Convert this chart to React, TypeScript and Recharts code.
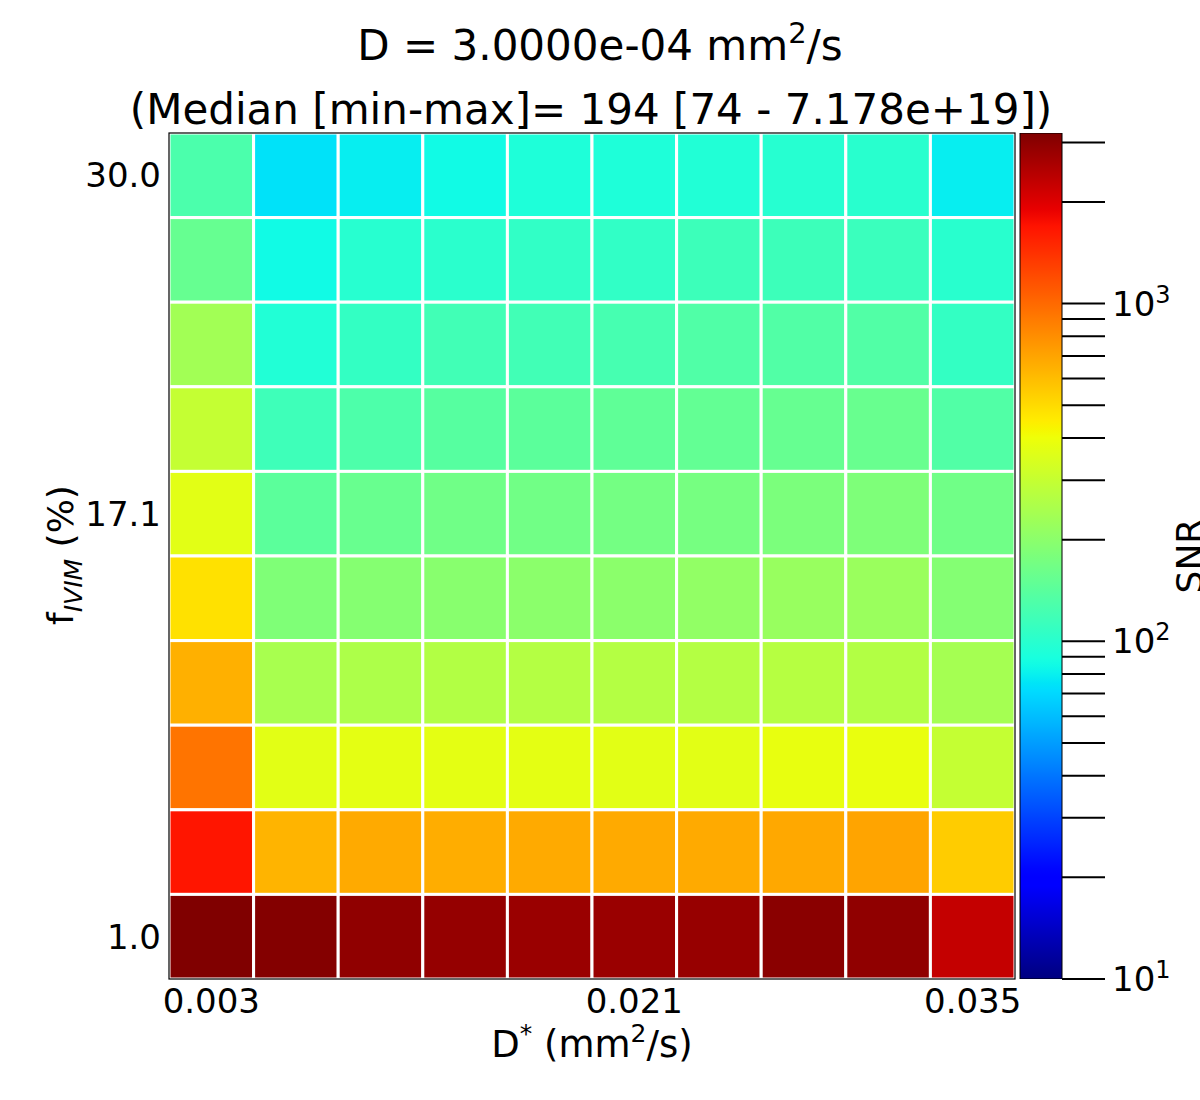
import React from 'react';
import {
  ScatterChart,
  Scatter,
  XAxis,
  YAxis,
  BarChart,
  Bar,
  Customized,
} from 'recharts';

// SNR per cell, rows from top (f = 30.0 %) to bottom (f = 1.0 %), columns D* low -> high
const SNR_ROWS: number[][] = [
  [127, 74, 79, 85, 93, 93, 95, 98, 100, 79],
  [154, 85, 99, 101, 106, 106, 115, 115, 113, 100],
  [234, 95, 108, 119, 119, 123, 132, 133, 133, 108],
  [297, 116, 129, 138, 143, 147, 151, 154, 156, 133],
  [368, 143, 156, 165, 166, 170, 172, 178, 182, 165],
  [482, 184, 192, 196, 200, 200, 210, 218, 222, 190],
  [651, 245, 254, 263, 266, 266, 266, 270, 263, 239],
  [936, 368, 372, 372, 372, 368, 368, 382, 386, 297],
  [1676, 636, 674, 660, 674, 674, 674, 681, 700, 548],
  [7.178e19, 3130, 2950, 2880, 2800, 2800, 2850, 3040, 2950, 2270],
];

const X_TICK_INDEX = [0, 5, 9];
const X_TICK_LABELS = ['0.003', '0.021', '0.035'];
const Y_TICK_INDEX = [0, 5, 9];
const Y_TICK_LABELS = ['1.0', '17.1', '30.0'];

const CB_MIN = 10;
const CB_MAX = 3200;
const CB_TICKS = [
  10, 20, 30, 40, 50, 60, 70, 80, 90,
  100, 200, 300, 400, 500, 600, 700, 800, 900,
  1000, 2000, 3000,
];
const CB_MAJOR = [10, 100, 1000];
const CB_DATA = [{ name: 'cb', v: CB_MAX }];

const FONT = '"DejaVu Sans", sans-serif';
const W = 1200;
const H = 1100;
const PLOT = { left: 169, top: 133, right: 1015, bottom: 979 };
const N = 10;
const CELL_W = (PLOT.right - PLOT.left) / N;
const CELL_H = (PLOT.bottom - PLOT.top) / N;
const XAXIS_H = 40;
const YAXIS_W = 80;

// matplotlib "jet"
const JET_R = [[0, 0], [0.35, 0], [0.66, 1], [0.89, 1], [1, 0.5]];
const JET_G = [[0, 0], [0.125, 0], [0.375, 1], [0.64, 1], [0.91, 0], [1, 0]];
const JET_B = [[0, 0.5], [0.11, 1], [0.34, 1], [0.65, 0], [1, 0]];

function lerpTable(tab: number[][], t: number) {
  for (let i = 1; i < tab.length; i++) {
    if (t <= tab[i][0]) {
      const [t0, v0] = tab[i - 1];
      const [t1, v1] = tab[i];
      return v0 + ((t - t0) / (t1 - t0)) * (v1 - v0);
    }
  }
  return tab[tab.length - 1][1];
}

function jet(t: number) {
  const tt = Math.max(0, Math.min(1, t));
  const c = (v: number) => Math.round(v * 255);
  return `rgb(${c(lerpTable(JET_R, tt))},${c(lerpTable(JET_G, tt))},${c(lerpTable(JET_B, tt))})`;
}

const snrColor = (v: number) =>
  jet(Math.log10(v / CB_MIN) / Math.log10(CB_MAX / CB_MIN));

const cells = SNR_ROWS.flatMap((row, r) =>
  row.map((snr, c) => ({ x: c, y: N - 1 - r, snr }))
);

const gradStops = Array.from({ length: 101 }, (_, i) => i / 100);

const Cell = (props: any) => {
  const { cx, cy, payload } = props;
  return (
    <rect
      x={cx - CELL_W / 2}
      y={cy - CELL_H / 2}
      width={CELL_W}
      height={CELL_H}
      fill={snrColor(payload.snr)}
      stroke="#fff"
      strokeWidth={3}
    />
  );
};

const XTick = (props: any) => {
  const { x, payload } = props;
  const i = X_TICK_INDEX.indexOf(payload.value);
  return (
    <text x={x} y={PLOT.bottom + 34} textAnchor="middle" fontSize={34} fontFamily={FONT} fill="#000">
      {X_TICK_LABELS[i]}
    </text>
  );
};

const YTick = (props: any) => {
  const { y, payload } = props;
  const i = Y_TICK_INDEX.indexOf(payload.value);
  return (
    <text x={PLOT.left - 8} y={y + 12} textAnchor="end" fontSize={34} fontFamily={FONT} fill="#000">
      {Y_TICK_LABELS[i]}
    </text>
  );
};

const CbTick = (props: any) => {
  const { x, y, payload } = props;
  const k = CB_MAJOR.indexOf(payload.value);
  if (k < 0) return <g />;
  return (
    <text x={x + 5} y={y + 12} fontSize={34} fontFamily={FONT} fill="#000">
      10
      <tspan dy={-13} fontSize={24}>{k + 1}</tspan>
    </text>
  );
};

const Texts = () => (
  <g fontFamily={FONT} fill="#000">
    <text x={600} y={60} textAnchor="middle" fontSize={42}>
      D = 3.0000e-04 mm
      <tspan dy={-17} fontSize={29}>2</tspan>
      <tspan dy={17}>/s</tspan>
    </text>
    <text x={591} y={124} textAnchor="middle" fontSize={42}>
      (Median [min-max]= 194 [74 - 7.178e+19])
    </text>
    <text x={592} y={1057} textAnchor="middle" fontSize={37}>
      D
      <tspan dy={-15} fontSize={25}>*</tspan>
      <tspan dy={15}> (mm</tspan>
      <tspan dy={-15} fontSize={25}>2</tspan>
      <tspan dy={15}>/s)</tspan>
    </text>
    <text x={73} y={555} textAnchor="middle" fontSize={36} transform="rotate(-90 73 555)">
      f
      <tspan dy={9} fontSize={25} fontStyle="italic">IVIM</tspan>
      <tspan dy={-9}> (%)</tspan>
    </text>
    <text x={1202} y={556} textAnchor="middle" fontSize={36} transform="rotate(-90 1202 556)">
      SNR
    </text>
  </g>
);

const Frame = () => (
  <rect
    x={PLOT.left}
    y={PLOT.top}
    width={PLOT.right - PLOT.left}
    height={PLOT.bottom - PLOT.top}
    fill="none"
    stroke="#000"
    strokeWidth={1.2}
  />
);

export default function App() {
  return (
    <div style={{ position: 'absolute', left: 0, top: 0, width: W, height: H, background: '#fff' }}>
      <div style={{ position: 'absolute', left: 0, top: 0 }}>
        <ScatterChart
          width={W}
          height={H}
          margin={{
            top: PLOT.top,
            left: PLOT.left - YAXIS_W,
            right: W - PLOT.right,
            bottom: H - PLOT.bottom - XAXIS_H,
          }}
        >
          <XAxis
            type="number"
            dataKey="x"
            domain={[-0.5, N - 0.5]}
            ticks={X_TICK_INDEX}
            interval={0}
            tickLine={false}
            axisLine={false}
            height={XAXIS_H}
            tick={<XTick />}
          />
          <YAxis
            type="number"
            dataKey="y"
            domain={[-0.5, N - 0.5]}
            ticks={Y_TICK_INDEX}
            interval={0}
            tickLine={false}
            axisLine={false}
            width={YAXIS_W}
            tick={<YTick />}
          />
          <Scatter data={cells} shape={<Cell />} isAnimationActive={false} />
          <Customized component={<Texts />} />
        </ScatterChart>
      </div>
      <div style={{ position: 'absolute', left: 0, top: 0 }}>
        <BarChart
          width={W}
          height={H}
          data={CB_DATA}
          barCategoryGap={0}
          margin={{ top: PLOT.top, left: 1020, right: W - 1062 - 60, bottom: H - PLOT.bottom }}
        >
          <defs>
            <linearGradient id="jetGrad" x1="0" y1="1" x2="0" y2="0">
              {gradStops.map((t) => (
                <stop key={t} offset={`${t * 100}%`} stopColor={jet(t)} />
              ))}
            </linearGradient>
          </defs>
          <XAxis dataKey="name" hide />
          <YAxis
            orientation="right"
            type="number"
            scale="log"
            domain={[CB_MIN, CB_MAX]}
            ticks={CB_TICKS}
            interval={0}
            allowDataOverflow
            width={60}
            tickSize={43}
            tickLine={{ stroke: '#000', strokeWidth: 2 }}
            axisLine={false}
            tick={<CbTick />}
          />
          <Bar dataKey="v" fill="url(#jetGrad)" stroke="#000" strokeWidth={1} isAnimationActive={false} />
          <Customized component={<Frame />} />
        </BarChart>
      </div>
    </div>
  );
}
